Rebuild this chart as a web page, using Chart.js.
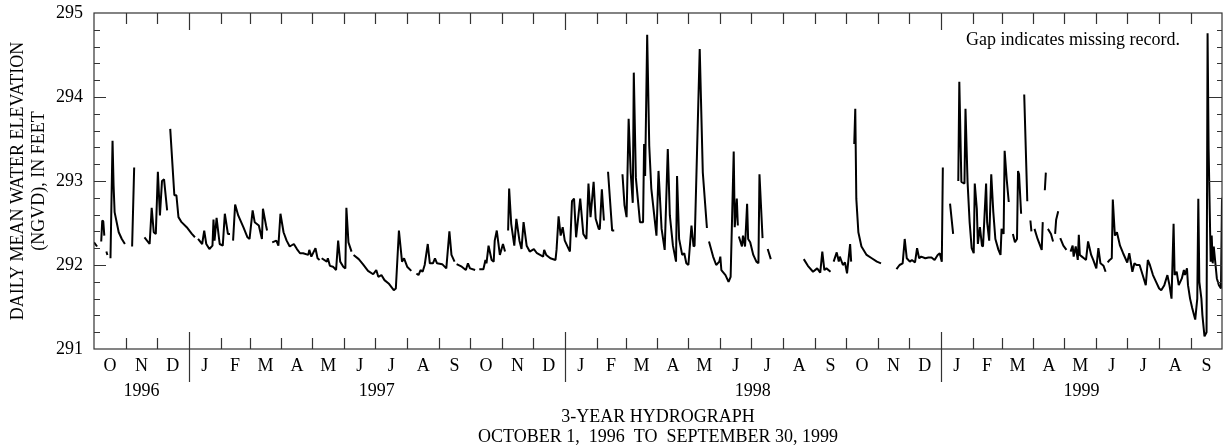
<!DOCTYPE html>
<html>
<head>
<meta charset="utf-8">
<script src="https://cdn.jsdelivr.net/npm/chart.js@4.4.0/dist/chart.umd.min.js"></script>
<style>
html,body{margin:0;padding:0;background:#fff;}
#wrap{width:1225px;height:447px;}
</style>
</head>
<body>
<div id="wrap"><canvas id="c" width="1225" height="447"></canvas></div>
<script>
// Day number counted from October 1, 1996 (day 0); null elevation = missing record (gap)
const days = [
  0,3,5,
  7,8,9,10,11,
  12,13,14,
  16,18,19,20,24,27,30,33,
  37,39,44,
  49,54,56,58,60,62,64,66,68,71,72,
  74,78,80,82,85,90,95,98,99,
  101,105,107,109,112,115,116,117,119,122,125,127,130,132,133,
  135,137,140,145,149,151,154,156,160,163,164,167,168,170,
  173,177,179,181,184,187,190,194,197,200,203,208,209,211,213,215,217,219,220,
  221,226,227,229,232,235,237,239,242,244,245,247,250,251,
  252,257,261,266,271,274,276,279,282,286,291,293,296,299,301,304,308,310,
  313,315,317,319,321,324,326,329,331,333,338,342,345,347,350,351,
  352,357,361,363,365,370,372,
  374,378,380,381,383,386,388,389,391,394,397,399,400,
  402,403,405,408,410,413,415,417,420,423,427,430,436,437,439,443,448,449,451,453,455,457,462,464,466,468,472,475,478,480,482,485,487,490,491,493,495,497,
  499,503,505,509,
  513,515,517,519,521,523,524,526,530,533,534,535,537,539,541,546,548,551,554,557,559,562,565,566,568,571,573,575,577,580,582,583,588,591,595,596,
  597,601,604,607,608,609,613,616,618,621,622,624,625,625.5,
  626,629,630,632,634,635,637,640,643,645,646,649,651,
  654,657,670,
  689,693,698,702,705,707,709,711,715,716,
  718,721,723,724,727,729,731,734,735,736,
  738,739,740,742,745,750,755,760,764,770,
  779,782,785,787,789,792,794,797,799,801,803,807,810,813,816,819,821,823,824,827,
  831,834,836,
  839,840,842,845,846,848,850,852,854,855,857,858,860,862,863,866,867,869,871,873,875,878,880,881,883,884,886,888,890,
  892,894,896,897,898,900,901,
  903,906,907,
  909,910,911,
  913,916,920,921,922,
  923,924,925,
  926,929,931,932,
  933,934,936,937,
  938,941,944,946,
  948,950,951,953,955,956,957,959,961,963,965,968,970,973,975,977,980,982,983,
  984,986,988,989,991,993,996,999,1003,1005,1008,1010,1012,1015,1018,1021,1023,1025,1028,1031,1034,1036,1039,1042,1044,1046,1048,1049,1051,1053,1056,1058,1059,1061,1062,1064,1066,1069,1071,1072,1073,1075,1076,1078,1080,1081,1082,1084,1085,1086,1087,1090,1092,1094,1095
];
const elevations = [
  292.27,292.22,null,
  292.28,292.53,292.52,292.35,null,
  292.16,292.12,null,
  292.08,293.48,292.95,292.63,292.39,292.31,292.25,null,
  292.22,293.16,null,
  292.33,292.25,292.68,292.39,292.37,293.11,292.59,293.00,293.02,292.65,null,
  293.62,292.83,292.83,292.57,292.51,292.45,292.37,292.33,null,
  292.31,292.25,292.41,292.25,292.19,292.23,292.54,292.29,292.56,292.25,292.23,292.61,292.37,292.37,null,
  292.29,292.72,292.59,292.45,292.33,292.31,292.65,292.51,292.47,292.31,292.67,292.47,292.41,null,
  292.27,292.29,292.23,292.61,292.39,292.29,292.22,292.25,292.19,292.14,292.14,292.12,292.18,292.10,292.15,292.20,292.08,292.06,null,
  292.08,292.04,292.08,291.99,291.98,291.94,292.29,292.04,291.98,291.96,292.68,292.27,292.16,null,
  292.12,292.07,292.01,291.93,291.89,291.94,291.86,291.88,291.82,291.78,291.70,291.72,292.41,292.04,292.08,291.98,291.93,null,
  291.90,291.88,291.94,291.92,292.00,292.25,292.02,292.02,292.08,292.02,292.01,291.96,292.40,292.12,292.04,null,
  292.01,291.98,291.94,292.02,291.96,291.94,null,
  291.95,291.95,292.06,292.02,292.23,292.06,292.04,292.29,292.41,292.12,292.25,292.16,null,
  292.41,292.91,292.49,292.23,292.55,292.29,292.19,292.51,292.23,292.16,292.19,292.14,292.10,292.18,292.12,292.08,292.06,292.18,292.58,292.35,292.45,292.29,292.16,292.76,292.79,292.33,292.79,292.37,292.31,292.97,292.57,292.99,292.55,292.43,292.43,292.90,292.53,null,
  293.11,292.41,292.41,null,
  293.08,292.71,292.57,293.74,293.10,292.74,294.29,293.04,292.51,292.51,293.44,293.06,294.74,293.42,292.91,292.35,293.12,292.43,292.18,293.38,292.59,292.23,292.04,293.06,292.31,292.12,292.14,292.02,292.00,292.47,292.22,292.23,294.57,293.10,292.44,null,
  292.28,292.10,292.00,292.04,292.10,291.94,291.88,291.80,291.86,293.35,292.45,292.79,292.47,null,
  292.34,292.22,292.35,292.22,292.73,292.31,292.27,292.12,292.04,292.02,293.08,292.32,null,
  292.19,292.07,null,
  292.07,291.99,291.92,291.96,291.91,292.16,291.94,291.96,291.92,null,
  292.04,292.15,292.04,292.10,292.00,292.03,291.90,292.25,292.04,null,
  293.44,293.86,292.79,292.39,292.22,292.12,292.08,292.04,292.02,null,
  291.95,292.00,292.02,292.31,292.08,292.04,292.06,292.03,292.20,292.08,292.10,292.08,292.09,292.09,292.06,292.12,292.14,292.04,293.16,null,
  292.73,292.37,null,
  293.00,294.18,292.99,292.97,293.86,292.99,292.51,292.20,292.14,292.97,292.67,292.25,292.45,292.23,292.22,292.97,292.51,292.29,293.08,292.63,292.31,292.18,292.12,292.43,292.37,293.36,293.02,292.75,null,
  292.37,292.27,292.31,293.12,293.08,292.61,null,
  294.03,292.76,null,
  292.53,292.40,null,
  292.43,292.31,292.18,292.51,null,
  292.89,293.10,null,
  292.43,292.37,292.28,null,
  292.37,292.54,292.64,null,
  292.32,292.23,292.18,null,
  292.16,292.23,292.10,292.22,292.06,292.36,292.12,292.10,292.08,292.06,292.28,292.12,292.06,291.96,292.20,292.02,291.99,291.92,null,
  292.03,292.06,292.08,292.78,292.35,292.39,292.23,292.14,292.03,292.14,291.92,292.02,292.00,292.00,291.88,291.76,292.06,292.00,291.88,291.80,291.72,291.70,291.76,291.88,291.76,291.60,292.49,291.88,291.92,291.76,291.84,291.94,291.88,291.96,291.76,291.60,291.49,291.35,291.60,292.79,291.80,291.60,291.40,291.15,291.20,294.76,293.38,292.04,292.35,292.02,292.22,291.84,291.76,291.72,292.80
];
const monthLetters = ['O','N','D','J','F','M','A','M','J','J','A','S'];
const yearLabels = ['1996','1997','1998','1999'];
const yTickValues = [291, 292, 293, 294, 295];
const yAxisTitle = ['DAILY MEAN WATER ELEVATION', '(NGVD), IN FEET'];
const xAxisTitle = ['3-YEAR HYDROGRAPH', 'OCTOBER 1,  1996  TO  SEPTEMBER 30, 1999'];
const noteText = 'Gap indicates missing record.';

// calendar helpers (axis layout only)
const START = Date.UTC(1996, 9, 1);
const monthBounds = [];
for (let i = 0; i <= 36; i++) monthBounds.push((Date.UTC(1996, 9 + i, 1) - START) / 864e5);
const monthMids = [];
for (let i = 0; i < 36; i++) monthMids.push((monthBounds[i] + monthBounds[i + 1]) / 2);
const yearBoundIdx = [3, 15, 27];
const yearEdges = [0, monthBounds[3], monthBounds[15], monthBounds[27], monthBounds[36]];
const yearMids = [];
for (let i = 0; i < 4; i++) yearMids.push((yearEdges[i] + yearEdges[i + 1]) / 2);
const TOTAL = monthBounds[36];

const FONT = "'Liberation Serif', 'Times New Roman', serif";
Chart.defaults.font.family = FONT;
Chart.defaults.color = '#000';

const frameAndTicks = {
  id: 'frameAndTicks',
  afterDraw(chart) {
    const {ctx, chartArea: a} = chart;
    const xs = chart.scales.x, ys = chart.scales.y;
    ctx.save();
    ctx.strokeStyle = '#333';
    ctx.lineWidth = 1.2;
    ctx.strokeRect(a.left, a.top, a.right - a.left, a.bottom - a.top);
    ctx.beginPath();
    for (let i = 1; i < monthBounds.length - 1; i++) {
      const px = Math.round(xs.getPixelForValue(monthBounds[i])) + 0.5;
      const isYear = yearBoundIdx.includes(i);
      ctx.moveTo(px, a.top); ctx.lineTo(px, a.top + (isYear ? 17 : 11));
      if (isYear) { ctx.moveTo(px, a.bottom - 17); ctx.lineTo(px, a.bottom + 33); }
      else { ctx.moveTo(px, a.bottom); ctx.lineTo(px, a.bottom - 11); }
    }
    for (let k = 1; k < 20; k++) {
      const v = 291 + k * 0.2;
      const py = Math.round(ys.getPixelForValue(v)) + 0.5;
      const major = k % 5 === 0;
      ctx.moveTo(a.left, py); ctx.lineTo(a.left + (major ? 12 : 6), py);
      ctx.moveTo(a.right, py); ctx.lineTo(a.right - (major ? 13 : 5), py);
    }
    ctx.stroke();
    ctx.fillStyle = '#000';
    ctx.font = '18px ' + FONT;
    ctx.textAlign = 'right';
    ctx.textBaseline = 'alphabetic';
    ctx.fillText(noteText, a.right - 42, a.top + 32);
    ctx.restore();
  }
};

new Chart(document.getElementById('c'), {
  type: 'line',
  data: {
    datasets: [{
      data: days.map((d, i) => ({x: d, y: elevations[i]})),
      borderColor: '#000',
      borderWidth: 2,
      borderJoinStyle: 'bevel',
      pointRadius: 0,
      tension: 0,
      spanGaps: false,
      fill: false
    }]
  },
  options: {
    responsive: false,
    animation: false,
    events: [],
    layout: {padding: {top: 13, right: 3, left: 0, bottom: 0}},
    plugins: {legend: {display: false}, tooltip: {enabled: false}, title: {display: false}},
    scales: {
      x: {
        type: 'linear', position: 'bottom', min: 0, max: TOTAL, weight: 0,
        grid: {display: false, drawTicks: false}, border: {display: false},
        afterBuildTicks: s => { s.ticks = monthMids.map(v => ({value: v})); },
        afterFit: s => { s.height = 28; s.paddingLeft = 0; s.paddingRight = 0; },
        ticks: {autoSkip: false, maxRotation: 0, padding: 6, font: {size: 18},
          callback: (v, i) => monthLetters[i % 12]}
      },
      xYear: {
        type: 'linear', position: 'bottom', min: 0, max: TOTAL, weight: 1,
        grid: {display: false, drawTicks: false}, border: {display: false},
        afterBuildTicks: s => { s.ticks = yearMids.map(v => ({value: v})); },
        afterFit: s => { s.height = 70; s.paddingLeft = 0; s.paddingRight = 0; },
        ticks: {autoSkip: false, maxRotation: 0, padding: 3, font: {size: 18},
          callback: (v, i) => yearLabels[i]},
        title: {display: true, text: xAxisTitle, font: {size: 18, lineHeight: 1.15}, padding: {top: 0, bottom: -1}}
      },
      y: {
        type: 'linear', position: 'left', min: 291, max: 295,
        grid: {display: false, drawTicks: false}, border: {display: false},
        afterBuildTicks: s => { s.ticks = yTickValues.map(v => ({value: v})); },
        afterFit: s => { s.width = 94; s.paddingTop = 0; s.paddingBottom = 0; },
        ticks: {padding: 11, font: {size: 18}, callback: v => String(v)},
        title: {display: true, text: yAxisTitle, font: {size: 18, lineHeight: 1.2}, padding: {top: 7, bottom: 0}}
      }
    }
  },
  plugins: [frameAndTicks]
});
</script>
</body>
</html>
